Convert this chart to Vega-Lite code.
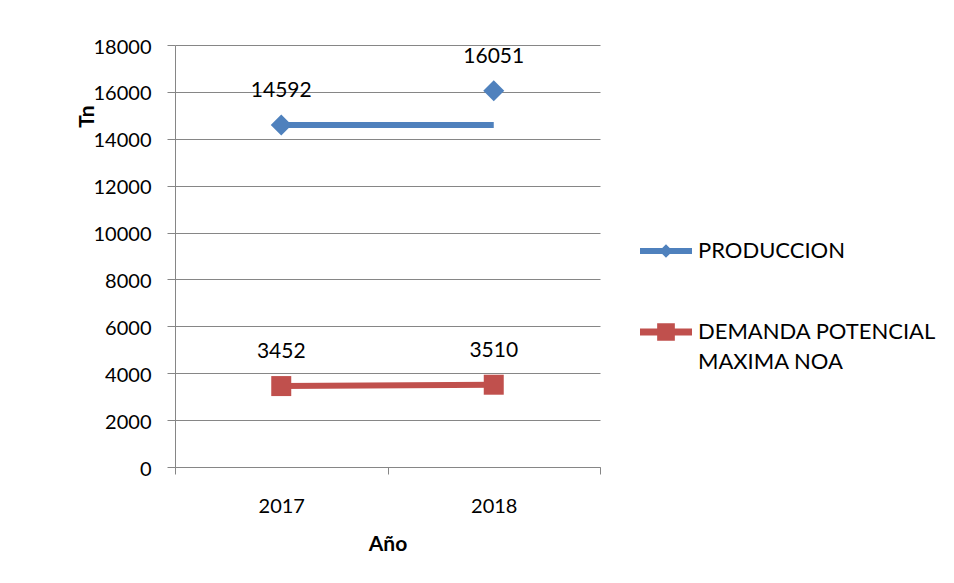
{
  "$schema": "https://vega.github.io/schema/vega-lite/v6.json",
  "width": 425,
  "height": 422,
  "autosize": {"type": "none"},
  "padding": {"left": 175, "top": 45, "right": 354, "bottom": 116},
  "background": "white",
  "config": {
    "view": {"stroke": null},
    "font": "Lato",
    "axis": {"labelFont": "Lato", "titleFont": "Lato", "labelColor": "black", "titleColor": "black"}
  },
  "data": {
    "values": [
      {"anio": "2017", "serie": "PRODUCCION", "valor": 14592, "linea": 14592},
      {"anio": "2018", "serie": "PRODUCCION", "valor": 16051, "linea": 14592},
      {"anio": "2017", "serie": "DEMANDA POTENCIAL MAXIMA NOA", "valor": 3452, "linea": 3452},
      {"anio": "2018", "serie": "DEMANDA POTENCIAL MAXIMA NOA", "valor": 3510, "linea": 3510}
    ]
  },
  "encoding": {
    "x": {
      "field": "anio",
      "type": "ordinal",
      "scale": {"paddingInner": 0, "paddingOuter": 0},
      "axis": {
        "title": "Año",
        "titleFontSize": 21,
        "titleFontWeight": "bold",
        "titleX": 212.5,
        "titleY": 66,
        "titleBaseline": "top",
        "titleAlign": "center",
        "labelAngle": 0,
        "labelFontSize": 20,
        "labelPadding": 22,
        "labelBaseline": "top",
        "tickBand": "extent",
        "tickSize": 7,
        "tickColor": "#868686",
        "domainColor": "#868686",
        "grid": false
      }
    }
  },
  "layer": [
    {
      "mark": {"type": "line", "strokeWidth": 6},
      "encoding": {
        "y": {
          "field": "linea",
          "type": "quantitative",
          "scale": {"domain": [0, 18000]},
          "axis": {
            "title": "Tn",
            "titleFontSize": 21,
            "titleFontWeight": "bold",
            "titleAngle": -90,
            "titleX": -82,
            "titleY": 71,
            "titleAlign": "center",
            "titleBaseline": "alphabetic",
            "values": [0, 2000, 4000, 6000, 8000, 10000, 12000, 14000, 16000, 18000],
            "format": "d",
            "labelFontSize": 20,
            "labelPadding": 16,
            "labelOffset": 2,
            "tickSize": 8,
            "tickColor": "#868686",
            "domainColor": "#868686",
            "gridColor": "#868686",
            "gridWidth": 1
          }
        },
        "color": {
          "field": "serie",
          "type": "nominal",
          "scale": {"domain": ["PRODUCCION", "DEMANDA POTENCIAL MAXIMA NOA"], "range": ["#4F81BD", "#C0504D"]},
          "legend": {
            "orient": "none",
            "legendX": 465,
            "legendY": 180,
            "title": null,
            "padding": 0,
            "symbolSize": 2704,
            "symbolStrokeWidth": 0,
            "symbolOpacity": 1,
            "labelFont": "Lato",
            "labelFontSize": 22,
            "labelColor": "black",
            "labelOffset": 6,
            "labelLimit": 0,
            "rowPadding": 44,
            "labelBaseline": "middle",
            "labelExpr": "datum.label == 'PRODUCCION' ? datum.label : ['DEMANDA POTENCIAL', 'MAXIMA NOA']",
            "encode": {
              "symbols": {
                "update": {
                  "shape": {"signal": "datum.value === 'PRODUCCION' ? 'M-1,-0.115H1V0.115H-1Z M0,-0.26L0.26,0L0,0.26L-0.26,0Z' : 'M-1,-0.13H1V0.13H-1Z M-0.34,-0.34H0.34V0.34H-0.34Z'"},
                  "fill": {"signal": "scale('color', datum.value)"},
                  "strokeWidth": {"value": 0},
                  "opacity": {"value": 1}
                }
              },
              "labels": {
                "update": {"lineHeight": {"value": 30}}
              }
            }
          }
        }
      }
    },
    {
      "transform": [{"filter": "datum.serie === 'PRODUCCION'"}],
      "mark": {"type": "point", "filled": true, "opacity": 1, "size": 441, "shape": "diamond", "color": "#4F81BD"},
      "encoding": {
        "y": {"field": "valor", "type": "quantitative"}
      }
    },
    {
      "transform": [{"filter": "datum.serie !== 'PRODUCCION'"}],
      "mark": {"type": "point", "filled": true, "opacity": 1, "size": 400, "shape": "square", "color": "#C0504D"},
      "encoding": {
        "y": {"field": "valor", "type": "quantitative"}
      }
    },
    {
      "mark": {"type": "text", "dy": -34, "fontSize": 21, "font": "Lato", "color": "black", "baseline": "middle"},
      "encoding": {
        "y": {"field": "valor", "type": "quantitative"},
        "text": {"field": "valor", "type": "quantitative", "format": "d"}
      }
    }
  ]
}
